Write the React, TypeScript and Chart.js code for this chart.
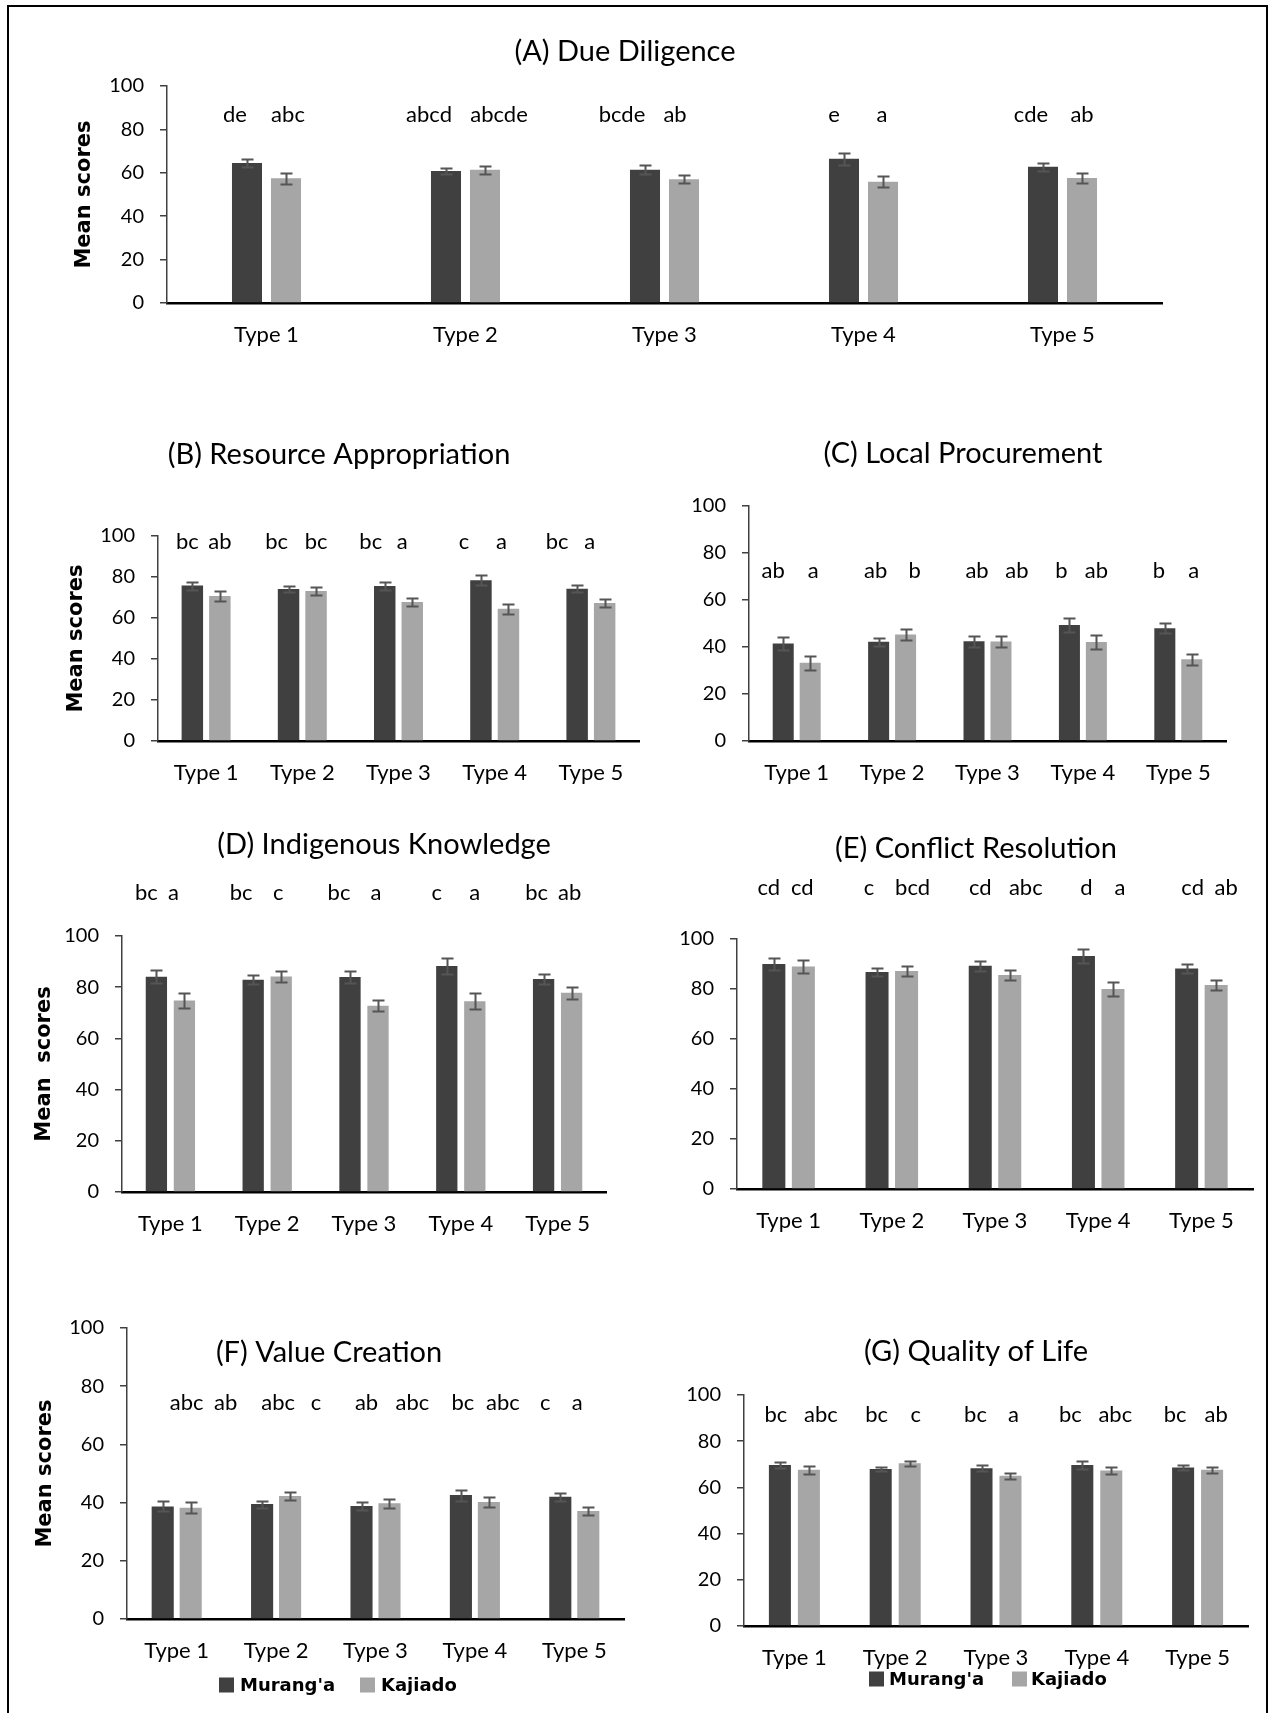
import React, { useEffect, useRef } from 'react';
import { Chart, registerables } from 'chart.js';
Chart.register(...registerables);

// ---------- data ----------
const categories = ['Type 1', 'Type 2', 'Type 3', 'Type 4', 'Type 5'];
const seriesNames = ["Murang'a", 'Kajiado'];
const yTickValues = [0, 20, 40, 60, 80, 100];

// (A) Due Diligence
const dueMur = [64.5, 60.8, 61.4, 66.5, 62.8];
const dueKaj = [57.5, 61.4, 57.0, 55.9, 57.6];
const dueMurErr = [2.0, 1.3, 2.0, 2.7, 1.8];
const dueKajErr = [2.5, 1.9, 1.9, 2.6, 2.1];
const dueMurLet = ['de', 'abcd', 'bcde', 'e', 'cde'];
const dueKajLet = ['abc', 'abcde', 'ab', 'a', 'ab'];

// (B) Resource Appropriation
const resMur = [75.8, 74.1, 75.6, 78.4, 74.3];
const resKaj = [70.7, 73.2, 67.8, 64.5, 67.3];
const resMurErr = [2.0, 1.6, 1.8, 2.5, 1.7];
const resKajErr = [2.4, 1.8, 1.9, 2.5, 1.9];
const resMurLet = ['bc', 'bc', 'bc', 'c', 'bc'];
const resKajLet = ['ab', 'bc', 'a', 'a', 'a'];

// (C) Local Procurement
const procMur = [41.5, 42.2, 42.5, 49.4, 48.0];
const procKaj = [33.3, 45.3, 42.3, 42.1, 34.8];
const procMurErr = [2.7, 1.7, 2.3, 3.1, 2.2];
const procKajErr = [3.0, 2.2, 2.4, 3.1, 2.4];
const procMurLet = ['ab', 'ab', 'ab', 'b', 'b'];
const procKajLet = ['a', 'b', 'ab', 'ab', 'a'];

// (D) Indigenous Knowledge
const indMur = [84.1, 82.9, 84.0, 88.3, 83.2];
const indKaj = [74.8, 84.2, 72.8, 74.5, 77.8];
const indMurErr = [2.5, 1.7, 2.4, 3.1, 1.9];
const indKajErr = [2.9, 2.15, 2.2, 3.1, 2.4];
const indMurLet = ['bc', 'bc', 'bc', 'c', 'bc'];
const indKajLet = ['a', 'c', 'a', 'a', 'ab'];

// (E) Conflict Resolution
const confMur = [90.0, 86.8, 89.3, 93.2, 88.2];
const confKaj = [89.0, 87.2, 85.6, 80.0, 81.6];
const confMurErr = [2.3, 1.7, 2.1, 2.8, 1.9];
const confKajErr = [2.7, 2.1, 2.1, 2.7, 2.0];
const confMurLet = ['cd', 'c', 'cd', 'd', 'cd'];
const confKajLet = ['cd', 'bcd', 'abc', 'a', 'ab'];

// (F) Value Creation
const valMur = [38.7, 39.5, 38.8, 42.6, 42.0];
const valKaj = [38.2, 42.3, 39.8, 40.2, 37.1];
const valMurErr = [1.7, 1.2, 1.5, 1.9, 1.4];
const valKajErr = [1.9, 1.4, 1.5, 1.8, 1.4];
const valMurLet = ['abc', 'abc', 'ab', 'bc', 'c'];
const valKajLet = ['ab', 'c', 'abc', 'abc', 'a'];

// (G) Quality of Life
const qolMur = [69.7, 68.0, 68.3, 69.7, 68.6];
const qolKaj = [67.6, 70.5, 65.0, 67.3, 67.6];
const qolMurErr = [1.45, 1.0, 1.2, 1.6, 1.1];
const qolKajErr = [1.6, 1.1, 1.3, 1.5, 1.2];
const qolMurLet = ['bc', 'bc', 'bc', 'bc', 'bc'];
const qolKajLet = ['abc', 'c', 'a', 'abc', 'ab'];

// ---------- styles / layout ----------
const DARK = '#404040';
const LIGHT = '#A6A6A6';
const ERR = '#555555';
const FONT = 'Lato';

type Rect = { l: number; t: number; w: number; h: number };
type Plot = { left: number; right: number; top: number; bottom: number };
type PanelCfg = {
  title: string;
  titleX: number;
  titleY: number;
  canvas: Rect;
  plot: Plot;
  values: number[][];
  errors: number[][];
  letters: string[][];
  letterY: number;
  letterDx: number[][];
  cp: number;
  bp: number;
  yTitle?: string;
  yTitleX?: number;
  legend?: { y: number; sq: number[]; tx: number[] };
};

const panels: PanelCfg[] = [
  {
    title: '(A) Due Diligence', titleX: 625, titleY: 52,
    canvas: { l: 20, t: 20, w: 1170, h: 340 },
    plot: { left: 167, right: 1162, top: 86, bottom: 303 },
    values: [dueMur, dueKaj], errors: [dueMurErr, dueKajErr], letters: [dueMurLet, dueKajLet],
    letterY: 115, letterDx: [[-12, -17, -23, -10, -12], [2, 14, -9, -1, 0]],
    cp: 0.392, bp: 0.77, yTitle: 'Mean scores', yTitleX: 85,
  },
  {
    title: '(B) Resource Appropriation', titleX: 339, titleY: 455,
    canvas: { l: 20, t: 420, w: 640, h: 380 },
    plot: { left: 158, right: 639, top: 536, bottom: 741 },
    values: [resMur, resKaj], errors: [resMurErr, resKajErr], letters: [resMurLet, resKajLet],
    letterY: 542, letterDx: [[-5, -12, -14, -17, -20], [0, 0, -10, -7, -15]],
    cp: 0.572, bp: 0.78, yTitle: 'Mean scores', yTitleX: 77,
  },
  {
    title: '(C) Local Procurement', titleX: 963, titleY: 454,
    canvas: { l: 660, t: 420, w: 600, h: 380 },
    plot: { left: 749, right: 1226, top: 506, bottom: 741 },
    values: [procMur, procKaj], errors: [procMurErr, procKajErr], letters: [procMurLet, procKajLet],
    letterY: 571, letterDx: [[-10, -3, 3, -8, -6], [3, 9, 16, 0, 2]],
    cp: 0.565, bp: 0.78,
  },
  {
    title: '(D) Indigenous Knowledge', titleX: 384, titleY: 845,
    canvas: { l: 20, t: 815, w: 620, h: 440 },
    plot: { left: 122, right: 606, top: 936, bottom: 1192 },
    values: [indMur, indKaj], errors: [indMurErr, indKajErr], letters: [indMurLet, indKajLet],
    letterY: 893, letterDx: [[-10, -12, -11, -10, -7], [-11, -3, -2, 0, -2]],
    cp: 0.579, bp: 0.76, yTitle: 'Mean  scores', yTitleX: 45,
  },
  {
    title: '(E) Conflict Resolution', titleX: 976, titleY: 849,
    canvas: { l: 660, t: 815, w: 600, h: 440 },
    plot: { left: 737, right: 1253, top: 939, bottom: 1189 },
    values: [confMur, confKaj], errors: [confMurErr, confKajErr], letters: [confMurLet, confKajLet],
    letterY: 888, letterDx: [[-5, -8, 0, 3, 6], [-1, 6, 16, 7, 10]],
    cp: 0.572, bp: 0.78,
  },
  {
    title: '(F) Value Creation', titleX: 329, titleY: 1353,
    canvas: { l: 20, t: 1300, w: 620, h: 410 },
    plot: { left: 127, right: 624, top: 1326, bottom: 1619 },
    values: [valMur, valKaj], errors: [valMurErr, valKajErr], letters: [valMurLet, valKajLet],
    letterY: 1403, letterDx: [[24, 16, 5, 2, -15], [35, 26, 23, 14, -11]],
    cp: 0.563, bp: 0.79, yTitle: 'Mean scores', yTitleX: 46,
    legend: { y: 1685, sq: [219, 360], tx: [240, 381] },
  },
  {
    title: '(G) Quality of Life', titleX: 976, titleY: 1352,
    canvas: { l: 660, t: 1300, w: 600, h: 410 },
    plot: { left: 744, right: 1248, top: 1395, bottom: 1626 },
    values: [qolMur, qolKaj], errors: [qolMurErr, qolKajErr], letters: [qolMurLet, qolKajLet],
    letterY: 1415, letterDx: [[-4, -4, -6, -12, -8], [12, 6, 3, 4, 4]],
    cp: 0.575, bp: 0.76,
    legend: { y: 1679, sq: [869, 1012], tx: [889, 1031] },
  },
];

function Panel({ cfg }: { cfg: PanelCfg }) {
  const ref = useRef<HTMLCanvasElement>(null);
  const c = cfg.canvas;
  const p = cfg.plot;
  useEffect(() => {
    if (!ref.current) return;
    const toX = (x: number) => x - c.l;
    const toY = (y: number) => y - c.t;
    const extras = {
      id: 'panelExtras',
      afterDatasetsDraw(chart: any) {
        const ctx = chart.ctx as CanvasRenderingContext2D;
        const ys = chart.scales.y;
        ctx.save();
        // error bars
        chart.data.datasets.forEach((ds: any, i: number) => {
          const meta = chart.getDatasetMeta(i);
          meta.data.forEach((bar: any, j: number) => {
            const v = ds.data[j];
            const e = cfg.errors[i][j];
            const yT = Math.round(ys.getPixelForValue(v + e)) + 0.5;
            const yB = Math.round(ys.getPixelForValue(v - e)) + 0.5;
            const x = Math.round(bar.x) + 0.5;
            ctx.strokeStyle = ERR;
            ctx.lineWidth = 2;
            ctx.beginPath();
            ctx.moveTo(x, yT); ctx.lineTo(x, yB);
            ctx.moveTo(x - 6, yT); ctx.lineTo(x + 6, yT);
            ctx.moveTo(x - 6, yB); ctx.lineTo(x + 6, yB);
            ctx.stroke();
          });
        });
        // significance letters
        ctx.fillStyle = '#000';
        ctx.font = `22px ${FONT}`;
        ctx.textAlign = 'center';
        ctx.textBaseline = 'middle';
        chart.data.datasets.forEach((_ds: any, i: number) => {
          const meta = chart.getDatasetMeta(i);
          meta.data.forEach((bar: any, j: number) => {
            ctx.fillText(cfg.letters[i][j], bar.x + cfg.letterDx[i][j], toY(cfg.letterY));
          });
        });
        // panel title
        ctx.font = `29px ${FONT}`;
        ctx.fillText(cfg.title, toX(cfg.titleX), toY(cfg.titleY));
        // legend
        if (cfg.legend) {
          const lg = cfg.legend;
          const colors = [DARK, LIGHT];
          ctx.font = 'bold 18px "DejaVu Sans"';
          ctx.textAlign = 'left';
          seriesNames.forEach((name, k) => {
            ctx.fillStyle = colors[k];
            ctx.fillRect(toX(lg.sq[k]), toY(lg.y) - 7.5, 15, 15);
            ctx.fillStyle = '#000';
            ctx.fillText(name, toX(lg.tx[k]), toY(lg.y) + 1);
          });
        }
        ctx.restore();
      },
    };

    const chart = new Chart(ref.current, {
      type: 'bar',
      data: {
        labels: categories,
        datasets: cfg.values.map((vals, i) => ({
          label: seriesNames[i],
          data: vals,
          backgroundColor: i === 0 ? DARK : LIGHT,
          borderWidth: 0,
          categoryPercentage: cfg.cp,
          barPercentage: cfg.bp,
        })),
      },
      options: {
        responsive: false,
        animation: false,
        devicePixelRatio: 1,
        layout: {
          padding: { top: p.top - c.t, right: c.l + c.w - p.right, left: 0, bottom: 0 },
        },
        plugins: {
          legend: { display: false },
          title: { display: false },
          tooltip: { enabled: false },
        },
        scales: {
          x: {
            grid: { display: false, drawTicks: false },
            border: { display: true, color: '#000', width: 2.5 },
            ticks: {
              color: '#000',
              font: { family: FONT, size: 22 },
              padding: 18.5,
              maxRotation: 0,
              autoSkip: false,
            },
            afterFit: (s: any) => { s.height = c.t + c.h - p.bottom; },
          },
          y: {
            min: 0,
            max: 100,
            afterBuildTicks: (s: any) => { s.ticks = yTickValues.map((v) => ({ value: v })); },
            ticks: { color: '#000', font: { family: FONT, size: 20 }, padding: 16 },
            grid: { drawOnChartArea: false, drawTicks: true, tickLength: 7, color: '#404040', lineWidth: 1.5 },
            border: { display: true, color: '#404040', width: 1.5 },
            title: cfg.yTitle
              ? {
                  display: true,
                  text: cfg.yTitle,
                  color: '#000',
                  font: { family: 'DejaVu Sans', size: 21, weight: 'bold' },
                  padding: { top: (cfg.yTitleX as number) - c.l - 12.6, bottom: 0 },
                }
              : { display: false },
            afterFit: (s: any) => { s.width = p.left - c.l; },
          },
        },
      },
      plugins: [extras],
    } as any);
    return () => chart.destroy();
  }, []);
  return (
    <canvas
      ref={ref}
      width={c.w}
      height={c.h}
      style={{ position: 'absolute', left: c.l, top: c.t, width: c.w, height: c.h }}
    />
  );
}

export default function App() {
  return (
    <div style={{ position: 'absolute', left: 0, top: 0, width: 1275, height: 1713, background: '#fff', overflow: 'hidden' }}>
      <div style={{ position: 'absolute', left: 7, top: 5, width: 2, height: 1708, background: '#000' }} />
      <div style={{ position: 'absolute', left: 7, top: 5, width: 1261, height: 2, background: '#000' }} />
      <div style={{ position: 'absolute', left: 1266, top: 5, width: 2, height: 1708, background: '#000' }} />
      {panels.map((cfg, i) => (
        <Panel key={i} cfg={cfg} />
      ))}
    </div>
  );
}
